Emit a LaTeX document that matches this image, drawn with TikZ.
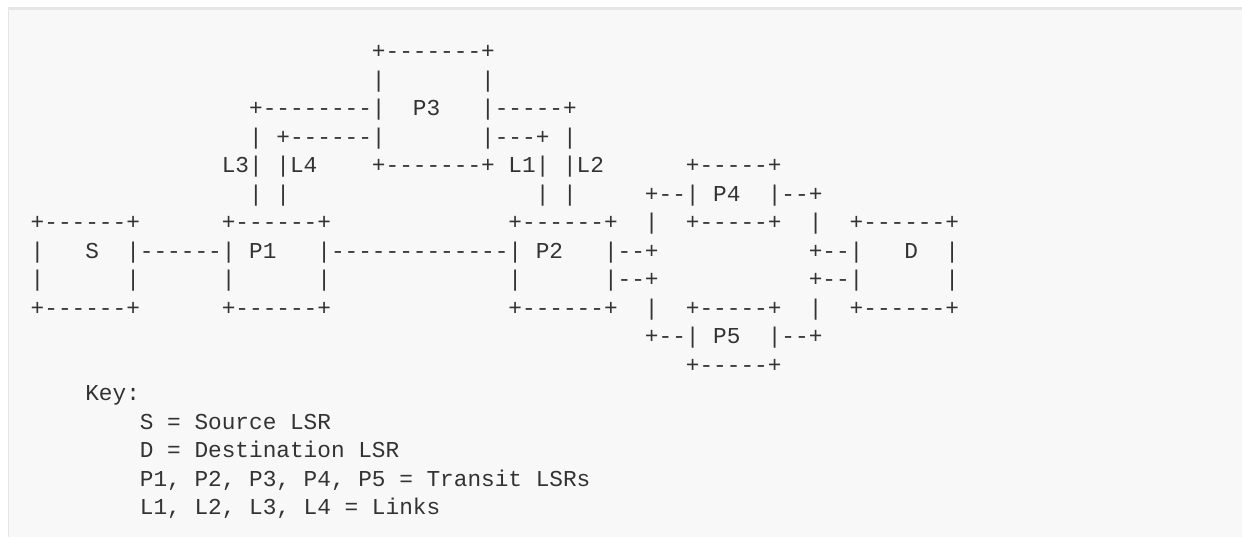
\documentclass[tikz,border=0pt]{standalone}
\usepackage{fontspec}
\newfontfamily\asciifont{Liberation Mono}
\definecolor{ink}{HTML}{333333}
\definecolor{panel}{HTML}{F8F8F8}
\definecolor{rim}{HTML}{E6E6E6}
\tikzset{
  asc/.style={anchor=base west, inner sep=0pt, outer sep=0pt, text=ink,
    font={\asciifont\fontsize{11.375pt}{14pt}\selectfont\frenchspacing}}
}
\begin{document}
\begin{tikzpicture}[x=0.5pt, y=-0.5pt]
\useasboundingbox (0,0) rectangle (1242,537);
\fill[white] (0,0) rectangle (1242,537);
\fill[panel] (8,8) rectangle (1242,537);
\draw[rim, line width=1.5pt] (8,8.5) -- (1242,8.5);
\draw[rim, line width=0.5pt] (8.5,8) -- (8.5,537);

\begin{scope}[shift={(30.7,58.5)}, x=6.825pt, y=-14.25pt]
% P3 and the two link pairs
\node[asc] (p3t) at (25,0) {+-------+};
\node[asc] (p3l1) at (25,1) {|};
\node[asc] (p3r1) at (33,1) {|};
\node[asc] (l3t) at (16,2) {+--------|};
\node[asc] (p3) at (28,2) {P3};
\node[asc] (l2t) at (33,2) {|-----+};
\node[asc] (l3a) at (16,3) {|};
\node[asc] (l4t) at (18,3) {+------|};
\node[asc] (l1t) at (33,3) {|---+};
\node[asc] (l2a) at (39,3) {|};
\node[asc] (l3) at (14,4) {L3|};
\node[asc] (l4) at (18,4) {|L4};
\node[asc] (p3b) at (25,4) {+-------+};
\node[asc] (l1) at (35,4) {L1|};
\node[asc] (l2) at (39,4) {|L2};
\node[asc] (p4t) at (48,4) {+-----+};
\node[asc] (l3b) at (16,5) {|};
\node[asc] (l4b) at (18,5) {|};
\node[asc] (l1b) at (37,5) {|};
\node[asc] (l2b) at (39,5) {|};
\node[asc] (p4l) at (45,5) {+--|};
\node[asc] (p4) at (50,5) {P4};
\node[asc] (p4r) at (54,5) {|--+};

% S, P1, P2, D
\node[asc] (st) at (0,6) {+------+};
\node[asc] (p1t) at (14,6) {+------+};
\node[asc] (p2t) at (35,6) {+------+};
\node[asc] (ua) at (45,6) {|};
\node[asc] (p4b) at (48,6) {+-----+};
\node[asc] (ub) at (57,6) {|};
\node[asc] (dt) at (60,6) {+------+};

\node[asc] (sl) at (0,7) {|};
\node[asc] (s) at (4,7) {S};
\node[asc] (sp1) at (7,7) {|------|};
\node[asc] (p1) at (16,7) {P1};
\node[asc] (p1p2) at (21,7) {|-------------|};
\node[asc] (p2) at (37,7) {P2};
\node[asc] (p2a) at (42,7) {|--+};
\node[asc] (da) at (57,7) {+--|};
\node[asc] (d) at (64,7) {D};
\node[asc] (dr) at (67,7) {|};

\node[asc] (sl2) at (0,8) {|};
\node[asc] (sr2) at (7,8) {|};
\node[asc] (p1l2) at (14,8) {|};
\node[asc] (p1r2) at (21,8) {|};
\node[asc] (p2l2) at (35,8) {|};
\node[asc] (p2b) at (42,8) {|--+};
\node[asc] (db) at (57,8) {+--|};
\node[asc] (dr2) at (67,8) {|};

\node[asc] (sb) at (0,9) {+------+};
\node[asc] (p1b) at (14,9) {+------+};
\node[asc] (p2bt) at (35,9) {+------+};
\node[asc] (va) at (45,9) {|};
\node[asc] (p5t) at (48,9) {+-----+};
\node[asc] (vb) at (57,9) {|};
\node[asc] (db2) at (60,9) {+------+};

% P5
\node[asc] (p5l) at (45,10) {+--|};
\node[asc] (p5) at (50,10) {P5};
\node[asc] (p5r) at (54,10) {|--+};
\node[asc] (p5b) at (48,11) {+-----+};

% key
\node[asc] (key) at (4,12) {Key:};
\node[asc] (ks) at (8,13) {S = Source LSR};
\node[asc] (kd) at (8,14) {D = Destination LSR};
\node[asc] (kp) at (8,15) {P1, P2, P3, P4, P5 = Transit LSRs};
\node[asc] (kl) at (8,16) {L1, L2, L3, L4 = Links};
\end{scope}
\end{tikzpicture}
\end{document}
